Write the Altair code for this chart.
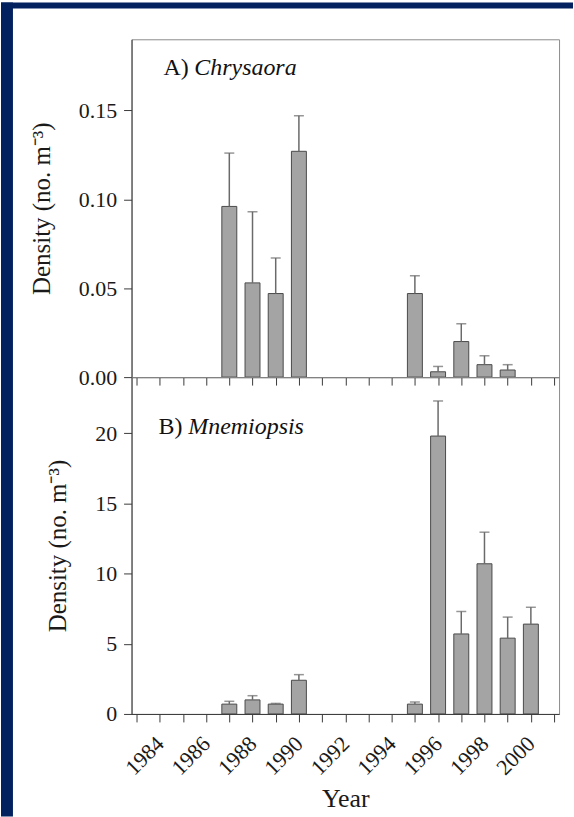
import altair as alt
import pandas as pd

# ---- data ----
years_c = [1987, 1988, 1989, 1990, 1995, 1996, 1997, 1998, 1999]
dens_c = [0.096, 0.053, 0.047, 0.127, 0.047, 0.003, 0.020, 0.007, 0.004]
upper_c = [0.126, 0.093, 0.067, 0.147, 0.057, 0.006, 0.030, 0.012, 0.007]

years_m = [1987, 1988, 1989, 1990, 1995, 1996, 1997, 1998, 1999, 2000]
dens_m = [0.7, 1.0, 0.7, 2.4, 0.7, 19.8, 5.7, 10.7, 5.4, 6.4]
upper_m = [0.9, 1.3, 0.75, 2.8, 0.85, 22.3, 7.3, 12.95, 6.9, 7.6]

year_ticks = list(range(1983, 2002))
label_years = list(range(1984, 2001, 2))
ticks_c = [0.0, 0.05, 0.10, 0.15]
ticks_m = [0, 5, 10, 15, 20]

tags = ["A)", "B)"]
species = ["Chrysaora", "Mnemiopsis"]
y_title = "Density (no. m\u207b\u00b3)"
x_title = "Year"

FONT = "Liberation Serif"
NAVY = "#03215f"
BAR_FILL = "#a4a4a4"
BAR_STROKE = "#4a4a4a"
ERR = "#6a6a6a"
W = 429


def panel(years, dens, upper, ymax, yticks, yfmt, tag, sp, tag_x, tag_y, sp_x,
          height, x_labels, strips):
    df = pd.DataFrame({"year": years, "density": dens, "upper": upper})
    xscale = alt.Scale(domain=[1983, 2001], nice=False, zero=False)
    yscale = alt.Scale(domain=[0, ymax], nice=False)
    if x_labels:
        xaxis = alt.Axis(
            values=year_ticks, title=x_title, grid=False, tickSize=8,
            labelExpr="indexof(" + str(label_years) + ", datum.value) >= 0 ? toString(datum.value) : ''",
            labelAngle=-45, labelAlign="right", labelBaseline="middle",
            labelOverlap=False, labelFlush=False, labelBound=False,
            labelPadding=18, titleFontSize=26, titlePadding=7, zindex=1)
    else:
        xaxis = alt.Axis(values=year_ticks, labels=False, title=None, grid=False,
                         tickSize=8, zindex=1)
    yaxis = alt.Axis(values=yticks, format=yfmt, title=y_title, grid=False,
                     tickSize=8, labelPadding=7, titleFontSize=25,
                     titlePadding=24, zindex=1)

    base = alt.Chart(df)
    bars = base.mark_bar(size=15, fill=BAR_FILL, stroke=BAR_STROKE, strokeWidth=1).encode(
        x=alt.X("year:Q", scale=xscale, axis=xaxis),
        y=alt.Y("density:Q", scale=yscale, axis=yaxis),
    )
    rules = base.mark_rule(color=ERR, strokeWidth=1.5).encode(
        x=alt.X("year:Q", scale=xscale, axis=xaxis),
        y=alt.Y("density:Q", scale=yscale, axis=yaxis),
        y2="upper:Q",
    )
    caps = base.mark_tick(orient="horizontal", size=10, thickness=1.5, color=ERR).encode(
        x=alt.X("year:Q", scale=xscale, axis=xaxis),
        y=alt.Y("upper:Q", scale=yscale, axis=yaxis),
    )
    lab = pd.DataFrame({"tag": [tag], "sp": [sp]})
    t1 = alt.Chart(lab).mark_text(align="left", baseline="alphabetic", font=FONT,
                                  fontSize=24, color="#111").encode(
        x=alt.value(tag_x), y=alt.value(tag_y), text="tag:N")
    t2 = alt.Chart(lab).mark_text(align="left", baseline="alphabetic", font=FONT,
                                  fontSize=24, fontStyle="italic", color="#111").encode(
        x=alt.value(sp_x), y=alt.value(tag_y), text="sp:N")
    layers = [bars, rules, caps, t1, t2]
    if strips:
        one = pd.DataFrame({"k": [1]})
        top = alt.Chart(one).mark_rect(color=NAVY, clip=False).encode(
            x=alt.value(-131), x2=alt.value(443), y=alt.value(-37), y2=alt.value(-31))
        left = alt.Chart(one).mark_rect(color=NAVY, clip=False).encode(
            x=alt.value(-131), x2=alt.value(-119), y=alt.value(-37), y2=alt.value(780))
        layers = [top, left] + layers
    return alt.layer(*layers).properties(width=W, height=height)


pa = panel(years_c, dens_c, upper_c, 0.19, ticks_c, ".2f", tags[0], species[0],
           32, 36, 63, 339, False, True)
pb = panel(years_m, dens_m, upper_m, 24, ticks_m, "d", tags[1], species[1],
           27, 57, 57, 338, True, False)

chart = alt.vconcat(pa, pb, spacing=0, bounds="flush").properties(
    padding=0, background="white"
).configure_view(
    stroke="#8c8c8c", strokeWidth=1
).configure_axis(
    labelFont=FONT, titleFont=FONT, labelFontSize=22, titleFontWeight="normal",
    labelColor="#1a1a1a", titleColor="#1a1a1a", domainColor="#3a3a3a",
    tickColor="#3a3a3a", domainWidth=1, tickWidth=1
)

chart.save("out.html", embed_options={"renderer": "svg", "actions": False})
